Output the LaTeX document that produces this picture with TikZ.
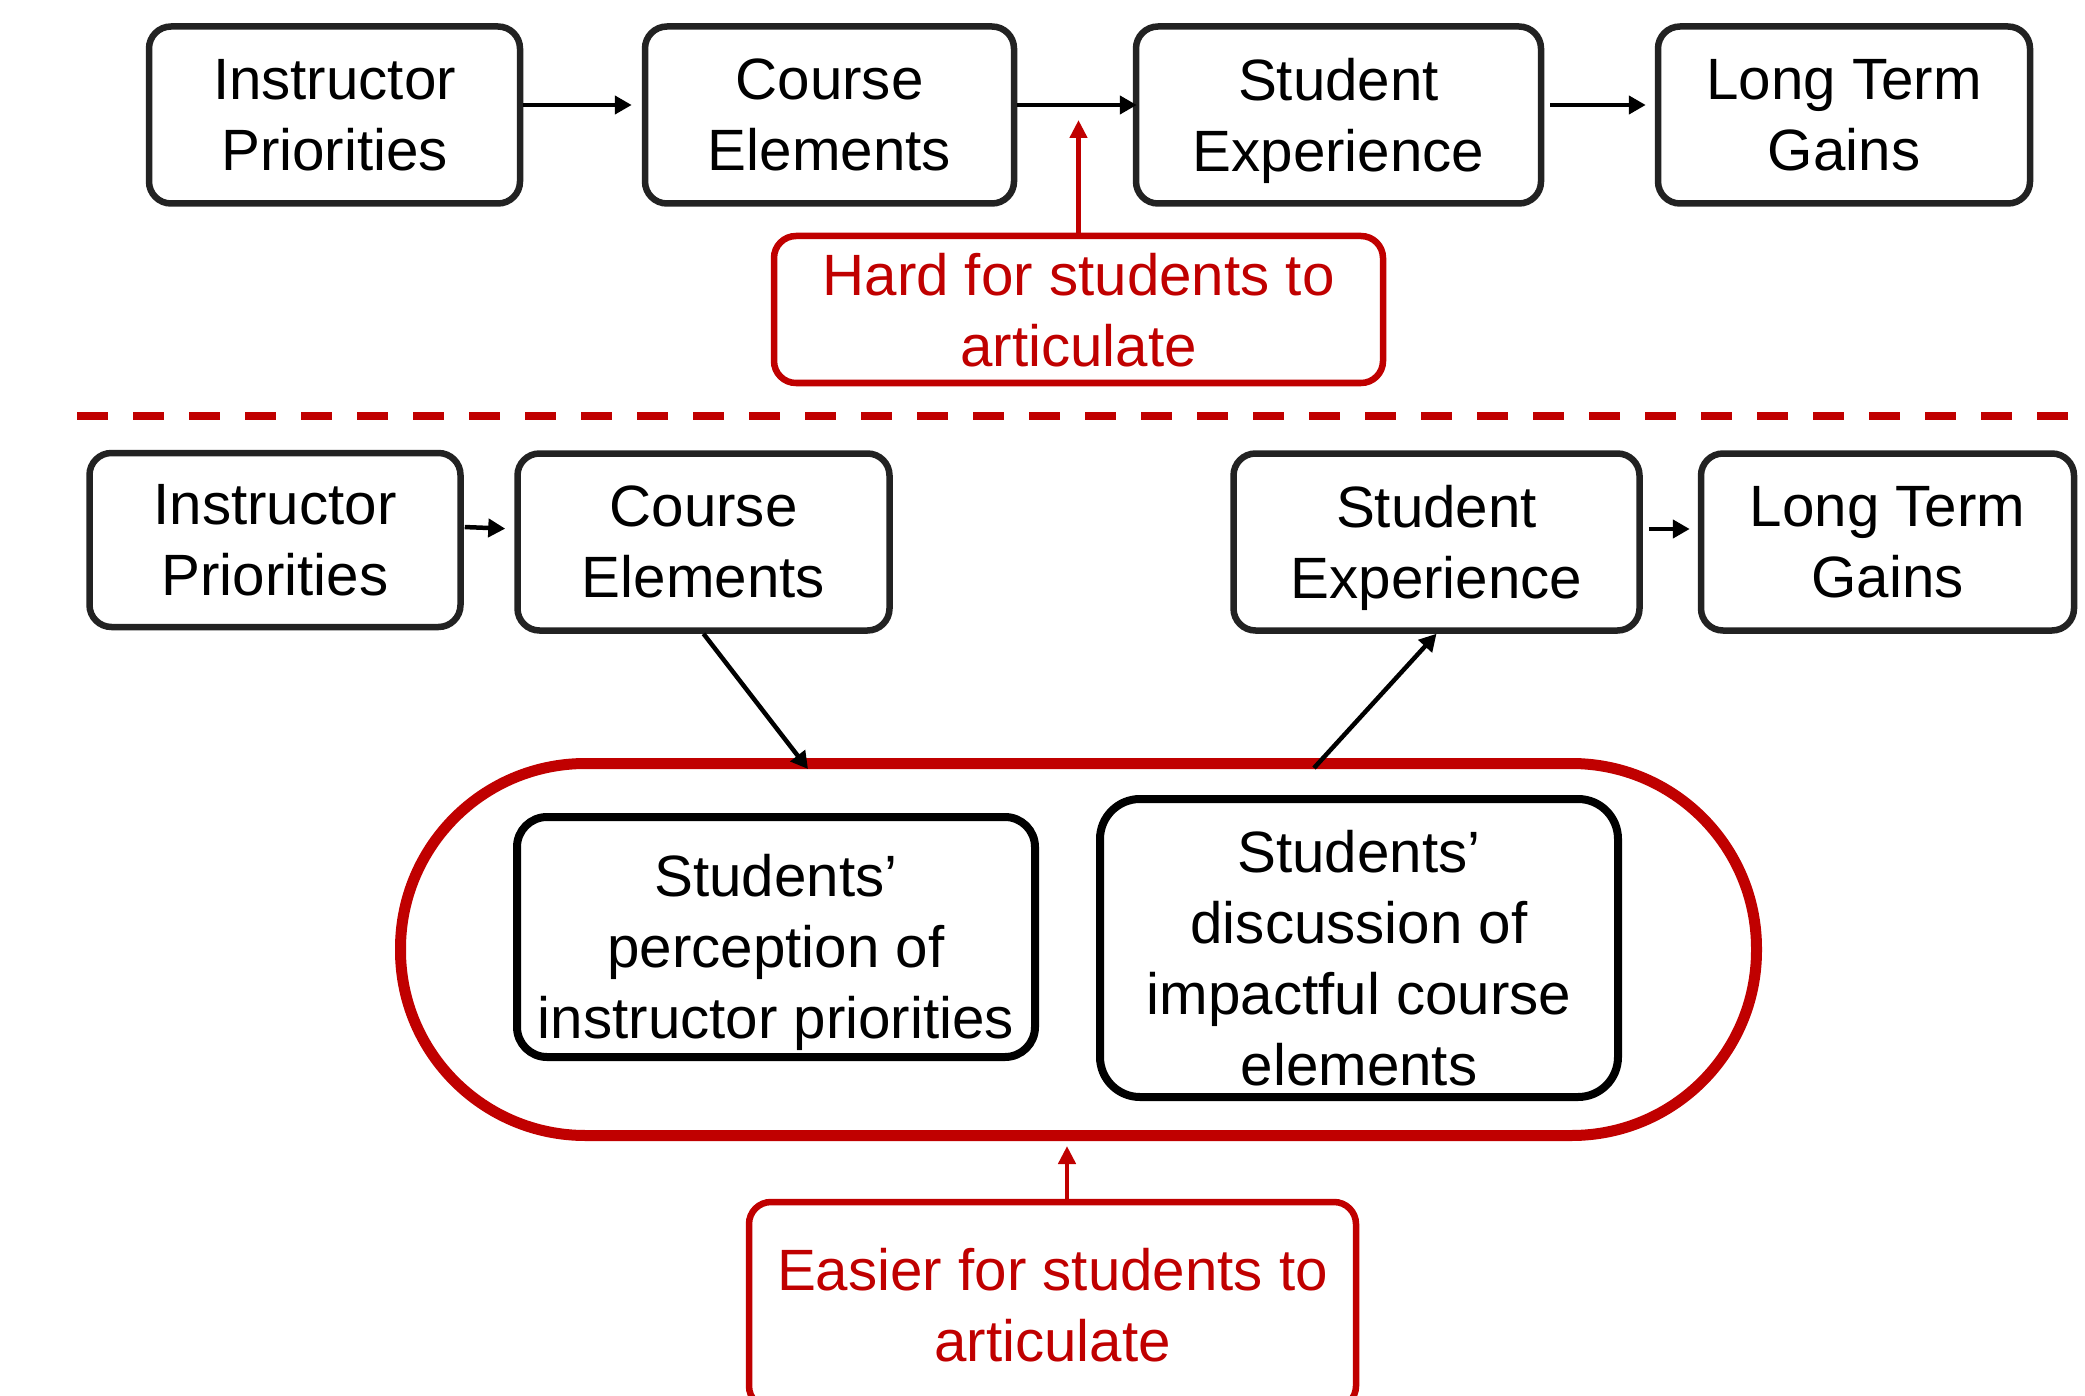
\documentclass[tikz,border=0pt]{standalone}
\usepackage{fontspec}
\setmainfont{Liberation Sans}
\usetikzlibrary{arrows.meta}
\definecolor{dred}{HTML}{C00000}
\definecolor{bgrey}{HTML}{222222}
\begin{document}
\begin{tikzpicture}[x=1pt,y=-1pt,
  every node/.style={font=\fontsize{58.3}{71}\selectfont, align=center, inner sep=0pt, text depth=0pt},
  blkbox/.style={draw=bgrey, line width=6.5pt, rounded corners=22pt, fill=white, text=black},
  inbox/.style={draw=black, line width=8pt, fill=white},
  redbox/.style={draw=dred, line width=6.5pt, rounded corners=22pt, fill=white, text=dred},
  blkarrow/.style={line width=4.5pt, black, -{Triangle[length=17pt,width=18pt]}},
  redarrow/.style={line width=4.5pt, dred, -{Triangle[length=18pt,width=17pt]}}
]
\useasboundingbox (0,0) rectangle (2085,1396);

% top row
\node[blkbox, minimum width=371pt, minimum height=177pt] (ip1) at (334.5,115) {Instructor\\Priorities};
\node[blkbox, minimum width=369pt, minimum height=177pt] (ce1) at (829.5,115) {Course\\Elements};
\node[blkbox, minimum width=405pt, minimum height=177pt] (se1) at (1338.5,115) {Student\\Experience};
\node[blkbox, minimum width=372pt, minimum height=177pt] (lt1) at (1844,115) {Long Term\\Gains};
\node[redbox, minimum width=609pt, minimum height=147pt] (hard) at (1078.5,309.5) {Hard for students to\\articulate};
\coordinate (h1) at (1078.5,120);

\draw[blkarrow, shorten >=10pt] ([yshift=10pt]ip1.east) -- ([yshift=10pt]ce1.west);
\draw[blkarrow, shorten >=-4pt] ([yshift=10pt]ce1.east) -- ([yshift=10pt]se1.west);
\draw[blkarrow, shorten <=6pt, shorten >=9pt] ([yshift=10pt]se1.east) -- ([yshift=10pt]lt1.west);
\draw[redarrow] (hard.north) -- (h1);

% dashed separator
\coordinate (d1) at (77,416);
\coordinate (d2) at (2085,416);
\draw[dred, line width=8pt, dash pattern=on 31pt off 25pt] (d1) -- (d2);

% second row
\node[blkbox, minimum width=371pt, minimum height=174pt] (ip2) at (275,540) {Instructor\\Priorities};
\node[blkbox, minimum width=372pt, minimum height=177pt] (ce2) at (703.5,542) {Course\\Elements};
\node[blkbox, minimum width=406pt, minimum height=177pt] (se2) at (1436.5,542) {Student\\Experience};
\node[blkbox, minimum width=373pt, minimum height=177pt] (lt2) at (1887.5,542) {Long Term\\Gains};

\draw[blkarrow, shorten <=1pt, shorten >=9pt] ([yshift=13pt]ip2.east) -- ([yshift=13pt]ce2.west);
\draw[blkarrow, shorten <=6pt, shorten >=8pt] ([yshift=13pt]se2.east) -- ([yshift=13pt]lt2.west);

% stadium group
\node[draw=dred, line width=11pt, rounded corners=185pt, minimum width=1356pt, minimum height=372pt] (stad) at (1078.5,949.5) {};
\node[inbox, rounded corners=30pt, minimum width=518pt, minimum height=240pt] (perc) at (776,937) {};
\node[text=black] (perct) at (776,946) {Students’\\perception of\\instructor priorities};
\node[inbox, rounded corners=40pt, minimum width=518pt, minimum height=298pt] (disc) at (1359,948) {};
\node[text=black] (disct) at (1359,958) {Students’\\discussion of\\impactful course\\elements};

\coordinate (a1) at (808,769);
\coordinate (a2) at (1314,768);
\draw[blkarrow] (ce2.south) -- (a1);
\draw[blkarrow] (a2) -- (se2.south);

\node[redbox, minimum width=607pt, minimum height=206pt] (easy) at (1052.5,1305) {Easier for students to\\articulate};
\coordinate (e1) at (1067,1146);
\draw[redarrow] ([xshift=14.5pt]easy.north) -- (e1);
\end{tikzpicture}
\end{document}
